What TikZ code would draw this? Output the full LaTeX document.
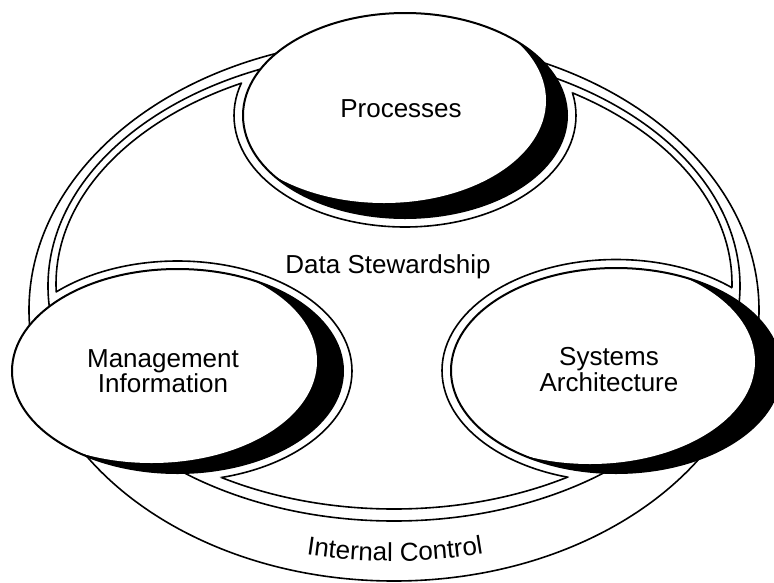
\documentclass[tikz,border=0pt]{standalone}
\usepackage{fontspec}
\setmainfont{Liberation Sans}
\usetikzlibrary{decorations.text}
\newcommand\lblfont{\fontsize{26}{25.5}\selectfont}
\begin{document}
\begin{tikzpicture}[x=1pt,y=-1pt,
  ln/.style={line width=1.6pt},
  outl/.style={line width=2pt},
  lbl/.style={font=\lblfont, inner sep=0pt, align=center}]
\useasboundingbox (0,0) rectangle (774,582);
\fill[white] (0,0) rectangle (774,582);
% Internal Control (outer ellipse)
\draw[ln] (394,310) ellipse [x radius=365pt, y radius=271pt];
% Data Stewardship band, outer line
\draw[ln] (394,286) ellipse [x radius=346pt, y radius=235pt];
% band inner line, outside the halos
\begin{scope}[even odd rule]
\clip (-100,-100) rectangle (900,700)
  (405,115.5) ellipse [x radius=171pt, y radius=111.5pt]
  (177.5,371) ellipse [x radius=174.5pt, y radius=110pt]
  (616,370.5) ellipse [x radius=174pt, y radius=111pt];
\draw[ln] (394,284) ellipse [x radius=338pt, y radius=225pt];
\end{scope}
% halos, inside the band
\begin{scope}
\clip (394,284) ellipse [x radius=338pt, y radius=225pt];
\draw[ln] (405,115.5) ellipse [x radius=171pt, y radius=111.5pt];
\draw[ln] (177.5,371) ellipse [x radius=174.5pt, y radius=110pt];
\draw[ln] (616,370.5) ellipse [x radius=174pt, y radius=111pt];
\end{scope}
% Processes
\begin{scope}
\clip (405,115.5) ellipse [x radius=162pt, y radius=102.5pt];
\fill[black] (405,115.5) ellipse [x radius=162pt, y radius=102.5pt];
\fill[white] (384,100.5) ellipse [x radius=162pt, y radius=102.5pt];
\end{scope}
\draw[outl] (405,115.5) ellipse [x radius=162pt, y radius=102.5pt];
% Management Information
\begin{scope}
\clip (177.5,371) ellipse [x radius=165.5pt, y radius=102pt];
\fill[black] (177.5,371) ellipse [x radius=165.5pt, y radius=102pt];
\fill[white] (151.5,361) ellipse [x radius=165.5pt, y radius=102pt];
\end{scope}
\draw[outl] (177.5,371) ellipse [x radius=165.5pt, y radius=102pt];
% Systems Architecture
\begin{scope}
\clip (616,370.5) ellipse [x radius=165pt, y radius=102.5pt];
\fill[black] (616,370.5) ellipse [x radius=165pt, y radius=102.5pt];
\fill[white] (590,361.5) ellipse [x radius=165pt, y radius=102.5pt];
\end{scope}
\draw[outl] (616,370.5) ellipse [x radius=165pt, y radius=102.5pt];
% labels
\node[lbl, anchor=base] (proc) at (401,117) {Processes};
\node[lbl, anchor=base] (ds) at (388,273) {Data Stewardship};
\node[lbl] (mgmt) at (163,371) {Management\\Information};
\node[lbl] (sys) at (609,369.5) {Systems\\Architecture};
\path[decorate, decoration={text along path, text align=center,
  text={|\lblfont|Internal Control}}]
  (296,553) .. controls (360,564) and (430,564) .. (494,552);
\end{tikzpicture}
\end{document}
